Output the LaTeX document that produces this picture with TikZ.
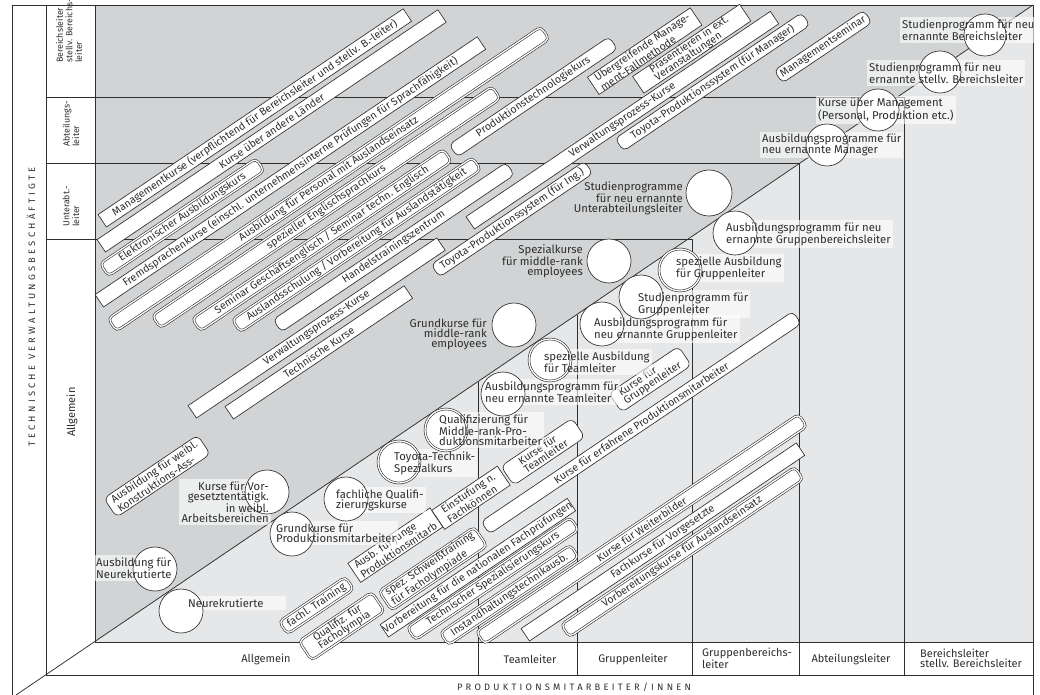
\documentclass[tikz,border=0pt]{standalone}
\usepackage{fontspec}
\setmainfont{Fira Sans}
\newfontfamily\axisfam[LetterSpace=35]{Fira Sans}
\newcommand\bartext{\fontsize{10.6}{9.6}\selectfont}
\newcommand\labtext{\fontsize{11.3}{10}\selectfont}
\newcommand\rowtext{\fontsize{8.8}{9.6}\selectfont}
\newcommand\coltext{\fontsize{11}{9.8}\selectfont}
\newcommand\axisfont{\axisfam\fontsize{9.3}{9.5}\selectfont}
\definecolor{gmid}{HTML}{D1D3D4}
\definecolor{glight}{HTML}{E6E7E8}
\definecolor{ink}{HTML}{2E2E2E}
\pgfdeclarelayer{bgl}
\pgfdeclarelayer{lablayer}
\pgfdeclarelayer{circlayer}
\pgfsetlayers{bgl,lablayer,circlayer,main}
\begin{document}
\begin{tikzpicture}[x=1pt,y=-1pt,
  frame/.style={draw=ink,line width=0.75pt},
  pbar/.style={draw=ink,line width=0.65pt,fill=white,minimum height=15pt,inner sep=0pt,
    rotate=34,anchor=west,font=\bartext,text=ink,align=left},
  pbartwo/.style={pbar,minimum height=23pt},
  rbar/.style={pbar,rounded corners=5pt},
  rbartwo/.style={pbartwo,rounded corners=6pt},
  dbar/.style={pbar,rounded corners=4.5pt,double=white,double distance=1.3pt,line width=0.6pt},
  dbartwo/.style={dbar,minimum height=23pt},
  circ/.style={circle,draw=ink,line width=0.65pt,fill=white,minimum size=44pt,inner sep=0pt},
  dcirc/.style={circ,double=white,double distance=1.3pt,line width=0.6pt,minimum size=42pt},
  lab/.style={align=left,inner sep=2pt,font=\labtext,text=ink},
  labfill/.style={fill=white,fill opacity=0.6},
  rowlab/.style={align=left,inner sep=0pt,font=\rowtext,text=ink,rotate=90,anchor=west},
  collab/.style={align=left,inner sep=0pt,font=\coltext,text=ink}
]
\useasboundingbox (0,0) rectangle (1040,695);
\begin{pgfonlayer}{bgl}
% backgrounds
\fill[gmid] (95,5) rectangle (1033,642);
\fill[glight] (95,642) -- (1033,5) -- (1033,642) -- cycle;
% frame and grid
\draw[frame] (12,695) -- (12,5) -- (1033,5) -- (1033,695);
\draw[frame] (46,5) -- (46,675) -- (1033,675);
\draw[frame] (95,5) -- (95,642) -- (1033,642);
\draw[frame] (46,97) -- (904,97) -- (904,675);
\draw[frame] (46,163) -- (799,163) -- (799,675);
\draw[frame] (46,239) -- (692,239) -- (692,675);
\draw[frame] (478,381.9) -- (478,675);
\draw[frame] (577,314.7) -- (577,675);
\draw[frame] (16,695) -- (1033,5);

% bars upper group
\node[pbar,minimum width=368pt] (b1) at (102,221) {Managementkurse (verpflichtend für Bereichsleiter und stellv. B.-leiter)};
\node[pbar,minimum width=411pt] (b2) at (101,246) {Kurse über andere Länder};
\node[dbar,minimum width=188pt] (b3) at (104,270) {Elektronischer Ausbildungskurs};
\node[pbar,minimum width=461pt] (b4) at (99,301) {Fremdsprachenkurse (einschl. unternehmensinterne Prüfungen für Sprachfähigkeit)};
\node[dbar,minimum width=522pt] (b5) at (112,325) {Ausbildung für Personal mit Auslandseinsatz};
\node[dbar,minimum width=410pt] (b6) at (156,322) {spezieller Englischsprachkurs};
\node[dbar,minimum width=303pt] (b7) at (196,325) {Seminar Geschäftsenglisch / Seminar techn. Englisch};
\node[rbar,minimum width=193pt] (b8) at (453,151) {Produktionstechnologiekurs};
\node[dbar,minimum width=290pt] (b9) at (236,326) {Auslandsschulung / Vorbereitung für Auslandstätigkeit};
\node[pbartwo,minimum height=20pt,minimum width=124pt] (b10) at (593,86) {Übergreifende Manage-\\ment-Fallmethode};
\node[rbar,minimum width=281pt] (b11) at (277,326) {Handelstrainingszentrum};
\node[pbartwo,minimum height=20pt,minimum width=129pt] (b12) at (638,85) {Präsentieren in ext.\\Veranstaltungen};
\node[pbar,minimum width=367pt] (b13) at (470,223) {Verwaltungsprozess-Kurse};
\node[rbar,minimum width=185pt] (b14) at (435,271) {Toyota-Produktionssystem (für Ing.)};
\node[rbar,minimum width=225pt] (b15) at (619,145) {Toyota-Produktionssystem (für Manager)};
\node[rbar,minimum width=108pt] (b16) at (778,77) {Managementseminar};
\node[pbar,minimum width=300pt] (b17) at (192,412) {Verwaltungsprozess-Kurse};
\node[pbar,minimum width=216pt] (b18) at (229,413) {Technische Kurse};
\node[rbartwo,minimum width=113pt] (b19) at (110,508) {Ausbildung für weibl.\\Konstruktions-Ass-};
% bars lower group
\node[dbar,minimum width=80pt] (b20) at (283,628) {fachl. Training};
\node[dbartwo,minimum width=88pt] (b21) at (305,651) {Qualifiz. für\\Facholympia};
\node[pbartwo,minimum width=99pt] (b22) at (354,573) {Ausb. für junge\\Produktionsmitarb};
\node[pbartwo,minimum width=79pt] (b23) at (438,520) {Einstufung n.\\Fachkönnen};
\node[rbartwo,minimum width=86pt] (b24) at (507,476) {Kurse für\\Teamleiter};
\node[rbartwo,minimum width=84pt] (b25) at (615,403) {Kurse für\\Gruppenleiter};
\node[dbartwo,minimum width=115pt] (b26) at (385,601) {spez. Schweißtraining\\für Facholympiade};
\node[rbar,minimum width=376pt] (b27) at (485,528) {Kurse für erfahrene Produktionsmitarbeiter};
\node[pbar,minimum width=225pt] (b28) at (384,631) {Vorbereitung für die nationalen Fachprüfungen};
\node[dbar,minimum width=197pt] (b29) at (411,634) {Technischer Spezialisierungskurs};
\node[dbar,minimum width=157pt] (b30) at (444,639) {Instandhaltungstechnikausb.};
\node[dbar,minimum width=389pt] (b31) at (480,638) {Kurse für Weiterbilder};
\node[pbar,minimum width=332pt] (b32) at (525,635) {Fachkurse für Vorgesetzte};
\node[dbar,minimum width=282pt] (b33) at (565,631) {Vorbereitungskurse für Auslandseinsatz};
\end{pgfonlayer}

% circles
\begin{pgfonlayer}{circlayer}
\node[circ,minimum size=42pt] (c1) at (985,35) {};
\node[circ,minimum size=42pt] (c2) at (940,72) {};
\node[circ,minimum size=42pt] (c3) at (878,110) {};
\node[circ,minimum size=42pt] (c4) at (827,145) {};
\node[circ,minimum size=46pt] (c5) at (709,193) {};
\node[circ] (c6) at (735,233) {};
\node[dcirc] (c7) at (680,270) {};
\node[circ] (c8) at (641,297) {};
\node[circ] (c9) at (602,324) {};
\node[circ] (c10) at (609,261) {};
\node[circ] (c11) at (514,325) {};
\node[dcirc] (c12) at (550,360) {};
\node[circ] (c13) at (503,394) {};
\node[dcirc] (c14) at (446,430) {};
\node[dcirc] (c15) at (399,462) {};
\node[circ] (c16) at (346,499) {};
\node[circ] (c17) at (292,534) {};
\node[circ] (c18) at (267,492) {};
\node[circ] (c19) at (155,569) {};
\node[circ] (c20) at (181,611) {};
\end{pgfonlayer}

% label texts
\node[lab,anchor=west] (l1) at (900,30) {Studienprogramm für neu\\ernannte Bereichsleiter};
\node[lab,anchor=west] (l2) at (867,73) {Studienprogramm für neu\\ernannte stellv. Bereichsleiter};
\node[lab,anchor=west] (l3) at (816,110) {Kurse über Management\\(Personal, Produktion etc.)};
\node[lab,anchor=west] (l4) at (760,145) {Ausbildungsprogramme für\\neu ernannte Manager};
\node[lab,anchor=east,align=right] (l5) at (685,198) {Studienprogramme\\für neu ernannte\\Unterabteilungsleiter};
\node[lab,anchor=west] (l6) at (724,234) {Ausbildungsprogramm für neu\\ernannte Gruppenbereichsleiter};
\node[lab,anchor=west] (l7) at (674,268) {spezielle Ausbildung\\für Gruppenleiter};
\node[lab,anchor=west] (l8) at (636,304) {Studienprogramm für\\Gruppenleiter};
\node[lab,anchor=west] (l9) at (592,329) {Ausbildungsprogramm für\\neu ernannte Gruppenleiter};
\node[lab,anchor=east,align=right] (l10) at (585,261) {Spezialkurse\\für middle-rank\\employees};
\node[lab,anchor=east,align=right] (l11) at (489,334) {Grundkurse für\\middle-rank\\employees};
\node[lab,anchor=west] (l12) at (542,362) {spezielle Ausbildung\\für Teamleiter};
\node[lab,anchor=west] (l13) at (483,392) {Ausbildungsprogramm für\\neu ernannte Teamleiter};
\node[lab,anchor=west] (l14) at (437,430) {Qualifizierung für\\Middle-rank-Pro-\\duktionsmitarbeiter};
\node[lab,anchor=west] (l15) at (392,463) {Toyota-Technik-\\Spezialkurs};
\node[lab,anchor=west] (l16) at (334,500) {fachliche Qualifi-\\zierungskurse};
\node[lab,anchor=west] (l17) at (274,533) {Grundkurse für\\Produktionsmitarbeiter};
\node[lab,anchor=east,align=right] (l18) at (271,502) {Kurse für Vor-\\gesetztentätigk.\\in weibl.\\Arbeitsbereichen};
\node[lab,anchor=west] (l19) at (94,568) {Ausbildung für\\Neurekrutierte};
\node[lab,anchor=west,text width=96pt] (l20) at (186,603) {Neurekrutierte};

% label backgrounds (below circles)
\begin{pgfonlayer}{lablayer}
\foreach \n in {l1,l2,l3,l4,l6,l7,l8,l9,l12,l13,l14,l15,l16,l17,l18,l19,l20}
  \fill[labfill] (\n.south west) rectangle (\n.north east);
\end{pgfonlayer}

% row labels
\node[rowlab] (r1) at (69,63) {Bereichsleiter\\stellv. Bereichs-\\leiter};
\node[rowlab] (r2) at (71,147) {Abteilungs-\\leiter};
\node[rowlab] (r3) at (71,227) {Unterabt.-\\leiter};
\node[rowlab,font=\coltext] (r4) at (72,437) {Allgemein};
% column labels
\node[collab] (k1) at (266,659) {Allgemein};
\node[collab] (k2) at (530,659) {Teamleiter};
\node[collab] (k3) at (633,659) {Gruppenleiter};
\node[collab,anchor=west] (k4) at (702,658) {Gruppenbereichs-\\leiter};
\node[collab] (k5) at (851,659) {Abteilungsleiter};
\node[collab,anchor=west] (k6) at (920,658) {Bereichsleiter\\stellv. Bereichsleiter};
% axis titles
\node[font=\axisfont,text=ink,rotate=90] (ax1) at (31,307) {TECHNISCHE VERWALTUNGSBESCHÄFTIGTE};
\node[font=\axisfont,text=ink] (ax2) at (574,687) {PRODUKTIONSMITARBEITER/INNEN};
\end{tikzpicture}
\end{document}
